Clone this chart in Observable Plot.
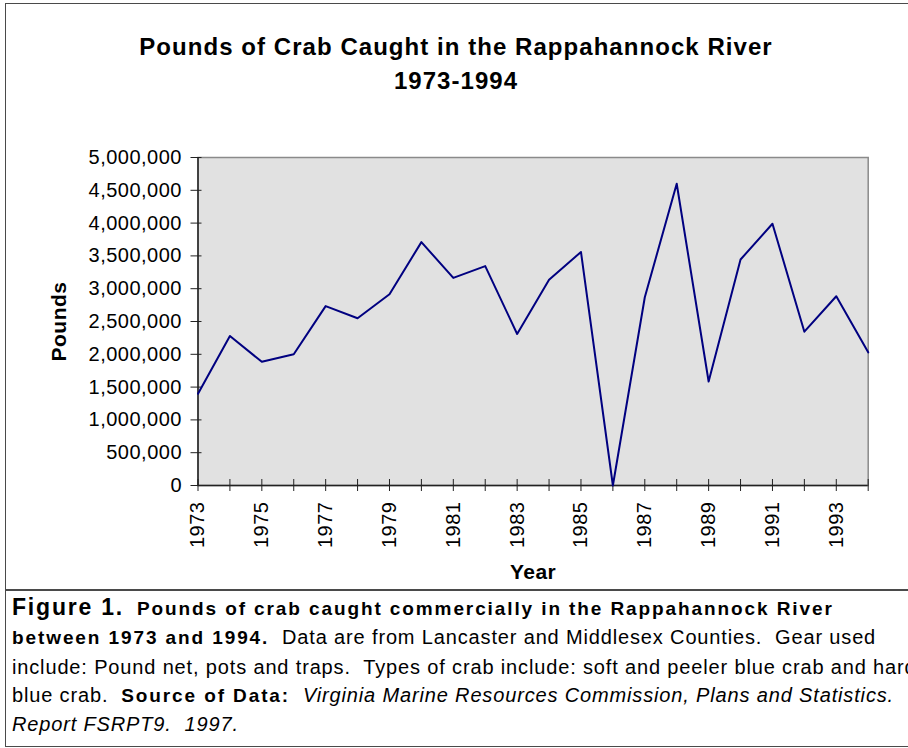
<!DOCTYPE html>
<html>
<head>
<meta charset="utf-8">
<script src="https://cdn.jsdelivr.net/npm/d3@7"></script>
<script src="https://cdn.jsdelivr.net/npm/@observablehq/plot@0.6"></script>
<style>
  html, body { margin: 0; padding: 0; background: #fff; overflow: hidden; }
  body { width: 908px; height: 748px; position: relative; font-family: "Liberation Sans", Arial, sans-serif; color: #000; }
  #box { position: absolute; left: 5px; top: 3px; width: 1100px; height: 587px; border: 1.5px solid #4a4a4a; border-right: none; box-sizing: border-box; }
  #title { position: absolute; left: 0; top: 30px; width: 912px; text-align: center; font-weight: bold; font-size: 24px; line-height: 34px; letter-spacing: 1.05px; }
  #chart { position: absolute; left: 0; top: 140px; }
  #caption { position: absolute; left: 5px; top: 590px; width: 1100px; height: 157px; border: 1.5px solid #4a4a4a; border-right: none; box-sizing: border-box; padding: 2px 0 0 6px; font-size: 20px; letter-spacing: 0.85px; line-height: 28.3px; white-space: nowrap; }
  #caption span, #caption b, #caption i { line-height: 28.3px; }
  #caption .fig { font-weight: bold; font-size: 23px; letter-spacing: 1.8px; }
  #caption b { font-size: 19px; letter-spacing: 1.9px; }
  #caption i { font-style: italic; }
</style>
</head>
<body>
<div id="box"></div>
<div id="title">Pounds of Crab Caught in the Rappahannock River<br>1973-1994</div>
<div id="chart"></div>
<div id="caption"><span class="fig">Figure 1.</span>&nbsp; <b>Pounds of crab caught commercially in the Rappahannock River</b><br><b>between 1973 and 1994.</b>&nbsp; Data are from Lancaster and Middlesex Counties.&nbsp; Gear used<br>include: Pound net, pots and traps.&nbsp; Types of crab include: soft and peeler blue crab and hard<br>blue crab.&nbsp; <b>Source of Data:</b>&nbsp; <i>Virginia Marine Resources Commission, Plans and Statistics.</i><br><i>Report FSRPT9.&nbsp; 1997.</i></div>
<script>
const years = [1973, 1974, 1975, 1976, 1977, 1978, 1979, 1980, 1981, 1982, 1983,
               1984, 1985, 1986, 1987, 1988, 1989, 1990, 1991, 1992, 1993, 1994];
const pounds = [1400000, 2280000, 1885000, 2000000, 2735000, 2550000, 2915000, 3710000, 3165000, 3345000, 2310000,
                3135000, 3560000, 0, 2870000, 4600000, 1585000, 3445000, 3990000, 2345000, 2885000, 2030000];
const yTicks = [0, 500000, 1000000, 1500000, 2000000, 2500000, 3000000, 3500000, 4000000, 4500000, 5000000];
const xLabelYears = [1973, 1975, 1977, 1979, 1981, 1983, 1985, 1987, 1989, 1991, 1993];
const yLabel = "Pounds";
const xLabel = "Year";

const data = years.map((y, i) => ({year: y, pounds: pounds[i]}));

const chart = Plot.plot({
  width: 908,
  height: 450,
  marginLeft: 197.5,
  marginRight: 40.3,
  marginTop: 17,
  marginBottom: 105,
  style: {fontFamily: "'Liberation Sans', Arial, sans-serif", fontSize: "20px", color: "#000", background: "transparent", overflow: "visible", letterSpacing: "0.5px"},
  x: {domain: [1973, 1994]},
  y: {domain: [0, 5000000]},
  marks: [
    Plot.frame({fill: "#e1e1e1", stroke: "#8a8a8a", strokeWidth: 1.5}),
    Plot.axisY({ticks: yTicks, tickSize: 11, dx: 4, tickPadding: 9, tickFormat: d3.format(","), label: null, stroke: "#222"}),
    Plot.axisX({ticks: years, tickSize: 12, dy: -6, tickFormat: () => "", label: null, stroke: "#222"}),
    Plot.axisX({ticks: xLabelYears, tickSize: 0, tickPadding: 16, tickRotate: -90, tickFormat: d => String(d), label: null}),
    Plot.ruleX([1973], {stroke: "#222", strokeWidth: 1.5}),
    Plot.ruleY([0], {stroke: "#222", strokeWidth: 1.5}),
    Plot.line(data, {x: "year", y: "pounds", stroke: "#000080", strokeWidth: 2}),
    Plot.text([xLabel], {text: d => d, frameAnchor: "bottom", textAnchor: "middle", lineAnchor: "middle", dy: 87, fontWeight: "bold", fontSize: 21}),
    Plot.text([yLabel], {text: d => d, frameAnchor: "left", textAnchor: "middle", lineAnchor: "middle", dx: -139, rotate: -90, fontWeight: "bold", fontSize: 21})
  ]
});
document.getElementById("chart").appendChild(chart);
</script>
</body>
</html>
